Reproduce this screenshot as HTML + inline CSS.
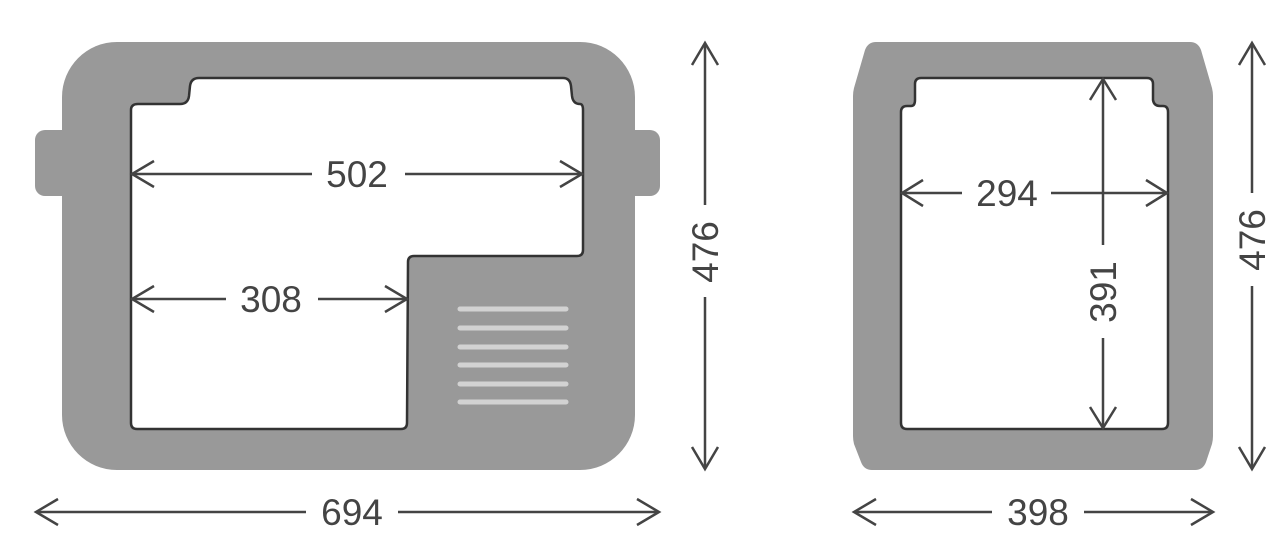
<!DOCTYPE html>
<html><head><meta charset="utf-8"><style>
html,body{margin:0;padding:0;background:#fff;}
svg{display:block}
text{font-family:"Liberation Sans",sans-serif;font-size:37px;fill:#444;}
</style></head><body>
<svg width="1280" height="540" viewBox="0 0 1280 540">
<g fill="#999">
<rect x="35" y="130" width="50" height="66" rx="10"/>
<rect x="610" y="130" width="50" height="66" rx="10"/>
<rect x="62" y="42" width="573" height="428" rx="55"/>
<path d="M876,42 L1190,42 Q1198,42 1201,50 L1212,88 Q1213,92 1213,96 L1213,436 Q1213,440 1212,444 L1206,462 Q1203,470 1195,470 L872,470 Q864,470 861,462 L854,444 Q853,440 853,436 L853,96 Q853,92 854,88 L865,50 Q868,42 876,42 Z"/>
</g>
<g fill="#fff" stroke="#333" stroke-width="2.5" stroke-linejoin="round">
<path d="M138,104 L180,104 Q188,104 189,96 L190,86 Q191,78 199,78 L563,78 Q570,78 571,86 L572,96 Q573,104 580,104 Q583,104 583,110 L583,250 Q583,256 577,256 L414,256 Q408,256 408,262 L407,423 Q407,429 401,429 L137,429 Q131,429 131,423 L131,110 Q131,104 138,104 Z"/>
<path d="M907,106 L911,106 Q915,106 915,100 L915,84 Q915,78 921,78 L1147,78 Q1153,78 1153,84 L1153,100 Q1154,106 1160,106 L1163,106 Q1168,106 1168,112 L1168,423 Q1168,429 1162,429 L907,429 Q901,429 901,423 L901,112 Q901,106 907,106 Z"/>
</g>
<g stroke="#d2d2d2" stroke-width="5" stroke-linecap="round">
<line x1="460" y1="309" x2="566" y2="309"/><line x1="460" y1="328" x2="566" y2="328"/>
<line x1="460" y1="347" x2="566" y2="347"/><line x1="460" y1="365" x2="566" y2="365"/>
<line x1="460" y1="384" x2="566" y2="384"/><line x1="460" y1="402" x2="566" y2="402"/>
</g>
<g stroke="#444" stroke-width="2.5" fill="none">
<line x1="132" y1="174" x2="312" y2="174"/><line x1="405" y1="174" x2="582" y2="174"/>
<path d="M154,161 L132,174 L154,187 M560,161 L582,174 L560,187"/>
<line x1="132" y1="299" x2="226" y2="299"/><line x1="318" y1="299" x2="407" y2="299"/>
<path d="M154,286 L132,299 L154,312 M385,286 L407,299 L385,312"/>
<line x1="36" y1="512" x2="306" y2="512"/><line x1="398" y1="512" x2="659" y2="512"/>
<path d="M58,499 L36,512 L58,525 M637,499 L659,512 L637,525"/>
<line x1="705" y1="43" x2="705" y2="205"/><line x1="705" y1="297" x2="705" y2="469"/>
<path d="M692,65 L705,43 L718,65 M692,447 L705,469 L718,447"/>
<line x1="902" y1="193" x2="962" y2="193"/><line x1="1051" y1="193" x2="1167" y2="193"/>
<path d="M923,180 L902,193 L923,206 M1146,180 L1167,193 L1146,206"/>
<line x1="1103" y1="79" x2="1103" y2="245"/><line x1="1103" y1="338" x2="1103" y2="428"/>
<path d="M1090,100 L1103,79 L1116,100 M1090,407 L1103,428 L1116,407"/>
<line x1="1252" y1="43" x2="1252" y2="193"/><line x1="1252" y1="286" x2="1252" y2="469"/>
<path d="M1239,65 L1252,43 L1265,65 M1239,447 L1252,469 L1265,447"/>
<line x1="854" y1="512" x2="992" y2="512"/><line x1="1084" y1="512" x2="1213" y2="512"/>
<path d="M876,499 L854,512 L876,525 M1191,499 L1213,512 L1191,525"/>
</g>
<text x="357" y="187" text-anchor="middle">502</text>
<text x="271" y="312" text-anchor="middle">308</text>
<text x="352" y="525" text-anchor="middle">694</text>
<text x="1007" y="206" text-anchor="middle">294</text>
<text x="1038" y="525" text-anchor="middle">398</text>
<text transform="translate(718,252) rotate(-90)" text-anchor="middle">476</text>
<text transform="translate(1116,292) rotate(-90)" text-anchor="middle">391</text>
<text transform="translate(1265,240) rotate(-90)" text-anchor="middle">476</text>
</svg>
</body></html>
